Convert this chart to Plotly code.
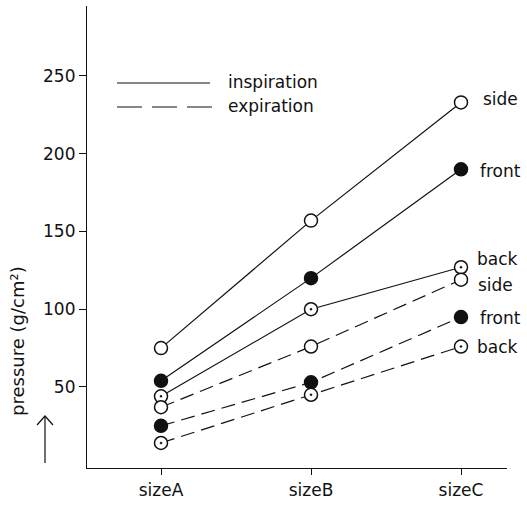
import plotly.graph_objects as go

categories = ["sizeA", "sizeB", "sizeC"]
insp_side = [75, 157, 233]
insp_front = [54, 120, 190]
insp_back = [44, 100, 127]
exp_side = [37, 76, 119]
exp_front = [25, 53, 95]
exp_back = [14, 45, 76]
y_ticks = [50, 100, 150, 200, 250]

FONT = "DejaVu Sans"
INK = "#111111"

series = [
    ("side", insp_side, "solid", "open", 3),
    ("front", insp_front, "solid", "filled", -2),
    ("back", insp_back, "solid", "dot", 8),
    ("side", exp_side, "14px,7px", "open", -5),
    ("front", exp_front, "14px,7px", "filled", -1),
    ("back", exp_back, "14px,7px", "dot", 0),
]
label_xshift = [20, 17, 14, 15, 17, 14]

fig = go.Figure()
for (name, vals, dash, kind, ysh) in series:
    if kind == "open":
        sym, fill = "circle", "white"
    elif kind == "filled":
        sym, fill = "circle", INK
    else:
        sym, fill = "circle-dot", "white"
    fig.add_trace(go.Scatter(
        x=categories, y=vals, mode="lines+markers", name=name,
        line=dict(color=INK, width=1.2, dash=dash),
        marker=dict(symbol=sym, size=13, color=fill,
                    line=dict(color=INK, width=1.5)),
        showlegend=False, hoverinfo="x+y",
    ))

for i, (name, vals, dash, kind, ysh) in enumerate(series):
    fig.add_annotation(x=categories[-1], y=vals[-1], text=name,
                       showarrow=False, xanchor="left", yanchor="middle",
                       xshift=label_xshift[i], yshift=ysh,
                       font=dict(family=FONT, size=17, color=INK))

# plot area in px: x 87..507, y 6..468
L, R, T, B = 87, 507, 6, 468
W, H = R - L, B - T
def px(xp):
    return (xp - L) / W
def py(yp):
    return (B - yp) / H

# legend
fig.add_shape(type="line", xref="paper", yref="paper",
              x0=px(117), x1=px(210), y0=py(83), y1=py(83),
              line=dict(color=INK, width=1.2))
fig.add_shape(type="line", xref="paper", yref="paper",
              x0=px(117), x1=px(214), y0=py(107), y1=py(107),
              line=dict(color=INK, width=1.2, dash="25px,10px"))
fig.add_annotation(xref="paper", yref="paper", x=px(226), y=py(82),
                   text="inspiration", showarrow=False, xanchor="left",
                   yanchor="middle", font=dict(family=FONT, size=17, color=INK))
fig.add_annotation(xref="paper", yref="paper", x=px(226), y=py(106),
                   text="expiration", showarrow=False, xanchor="left",
                   yanchor="middle", font=dict(family=FONT, size=17, color=INK))

# y title
fig.add_annotation(xref="paper", yref="paper", x=px(18), y=py(341),
                   text="pressure (g/cm²)", showarrow=False, textangle=-90,
                   xanchor="center", yanchor="middle",
                   font=dict(family=FONT, size=18, color=INK))
# arrow
fig.add_shape(type="line", xref="paper", yref="paper",
              x0=px(45), x1=px(45), y0=py(463), y1=py(416),
              line=dict(color=INK, width=1.2))
fig.add_shape(type="path", xref="paper", yref="paper",
              path=f"M {px(37)},{py(425)} L {px(45)},{py(416)} L {px(53)},{py(425)}",
              line=dict(color=INK, width=1.2))

fig.update_xaxes(
    range=[(L - 161) / 150, (R - 161) / 150],
    showline=True, linecolor=INK, linewidth=1.2,
    ticks="outside", ticklen=6, tickcolor=INK, tickwidth=1,
    showgrid=False, zeroline=False,
    tickfont=dict(family=FONT, size=17, color=INK),
)
fig.update_yaxes(
    range=[-2.1, 295],
    tickvals=y_ticks, ticktext=[str(v) for v in y_ticks],
    showline=True, linecolor=INK, linewidth=1.2,
    ticks="outside", ticklen=7, tickcolor=INK, tickwidth=1,
    showgrid=False, zeroline=False,
    tickfont=dict(family=FONT, size=17, color=INK),
)
fig.update_layout(
    width=527, height=505,
    margin=dict(l=L, r=527 - R, t=T, b=505 - B),
    paper_bgcolor="white", plot_bgcolor="white",
    showlegend=False,
    font=dict(family=FONT, color=INK),
)
fig.write_html("out.html", config={"displayModeBar": False},
               post_script="document.body.style.margin='0';document.body.style.overflow='hidden';")
